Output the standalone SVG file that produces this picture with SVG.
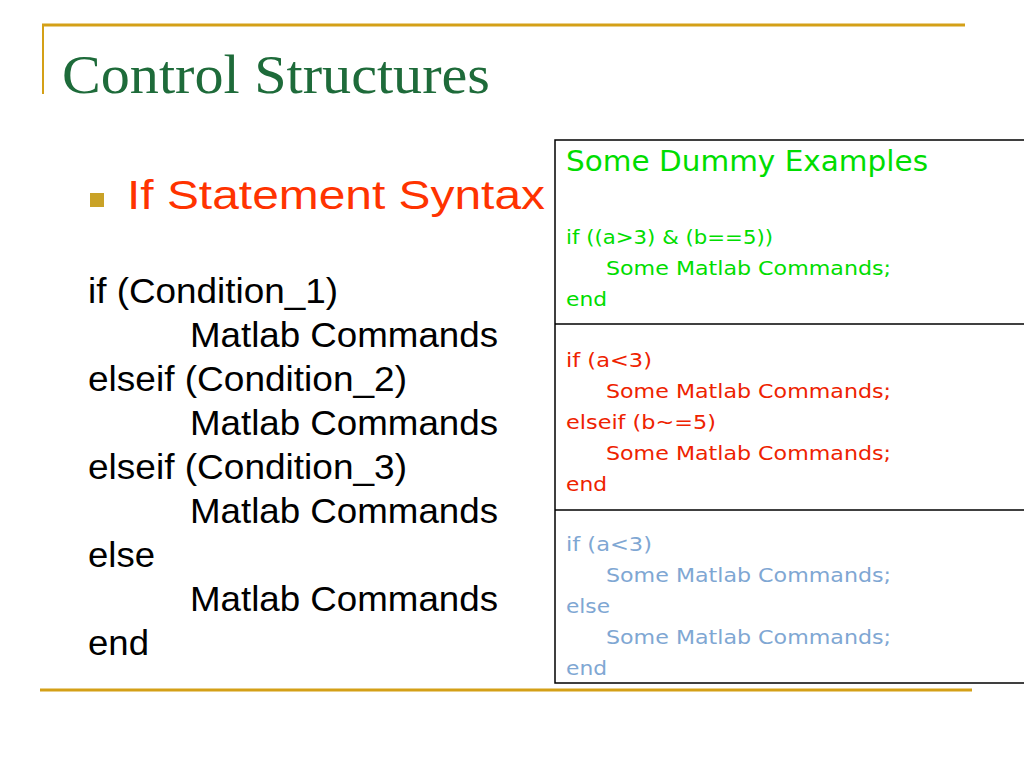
<svg xmlns="http://www.w3.org/2000/svg" width="1024" height="768" viewBox="0 0 1024 768">
<style>
.l{font-family:"Liberation Sans",Arial,sans-serif;font-size:35px;fill:#000}
.s{font-family:"DejaVu Sans",Verdana,sans-serif;font-size:20px}
.g{fill:#00dd00}.r{fill:#ee2200}.b{fill:#7fa7d3}
.gold{stroke:#d4a017;stroke-width:3}
</style>
<rect width="1024" height="768" fill="#fff"/>
<g id="frame">
<line class="gold" x1="42" y1="25" x2="965" y2="25"/>
<line x1="43" y1="25" x2="43" y2="94" stroke="#d4a017" stroke-width="2"/>
<line class="gold" x1="40" y1="690" x2="972" y2="690"/>
</g>
<text x="62" y="93" font-family="Liberation Serif,Times New Roman,serif" font-size="54" fill="#1e6b3a" textLength="428" lengthAdjust="spacingAndGlyphs">Control Structures</text>
<g id="bullet">
<rect x="90" y="193" width="14" height="14" fill="#c9a227"/>
<text x="127" y="209" font-family="Liberation Sans,Arial,sans-serif" font-size="40" fill="#ff3300" textLength="418" lengthAdjust="spacingAndGlyphs">If Statement Syntax</text>
</g>
<g id="syntax">
<text class="l" x="88" y="303" textLength="250" lengthAdjust="spacingAndGlyphs">if (Condition_1)</text>
<text class="l" x="190" y="347" textLength="308" lengthAdjust="spacingAndGlyphs">Matlab Commands</text>
<text class="l" x="88" y="391" textLength="319" lengthAdjust="spacingAndGlyphs">elseif (Condition_2)</text>
<text class="l" x="190" y="435" textLength="308" lengthAdjust="spacingAndGlyphs">Matlab Commands</text>
<text class="l" x="88" y="479" textLength="319" lengthAdjust="spacingAndGlyphs">elseif (Condition_3)</text>
<text class="l" x="190" y="523" textLength="308" lengthAdjust="spacingAndGlyphs">Matlab Commands</text>
<text class="l" x="88" y="567" textLength="67" lengthAdjust="spacingAndGlyphs">else</text>
<text class="l" x="190" y="611" textLength="308" lengthAdjust="spacingAndGlyphs">Matlab Commands</text>
<text class="l" x="88" y="655" textLength="61" lengthAdjust="spacingAndGlyphs">end</text>
</g>
<g id="table">
<rect x="555" y="140" width="480" height="543" fill="none" stroke="#000" stroke-width="1.5"/>
<line x1="555" y1="324" x2="1024" y2="324" stroke="#000" stroke-width="1.5"/>
<line x1="555" y1="510" x2="1024" y2="510" stroke="#000" stroke-width="1.5"/>
</g>
<g id="ex1" class="s">
<text class="g" x="566" y="171" font-size="28" textLength="362" lengthAdjust="spacingAndGlyphs">Some Dummy Examples</text>
<text class="g" x="566" y="244" textLength="207" lengthAdjust="spacingAndGlyphs">if ((a&gt;3) &amp; (b==5))</text>
<text class="g" x="606" y="275" textLength="285" lengthAdjust="spacingAndGlyphs">Some Matlab Commands;</text>
<text class="g" x="566" y="306" textLength="41" lengthAdjust="spacingAndGlyphs">end</text>
</g>
<g id="ex2" class="s">
<text class="r" x="566" y="367" textLength="86" lengthAdjust="spacingAndGlyphs">if (a&lt;3)</text>
<text class="r" x="606" y="398" textLength="285" lengthAdjust="spacingAndGlyphs">Some Matlab Commands;</text>
<text class="r" x="566" y="429" textLength="150" lengthAdjust="spacingAndGlyphs">elseif (b~=5)</text>
<text class="r" x="606" y="460" textLength="285" lengthAdjust="spacingAndGlyphs">Some Matlab Commands;</text>
<text class="r" x="566" y="491" textLength="41" lengthAdjust="spacingAndGlyphs">end</text>
</g>
<g id="ex3" class="s">
<text class="b" x="566" y="551" textLength="86" lengthAdjust="spacingAndGlyphs">if (a&lt;3)</text>
<text class="b" x="606" y="582" textLength="285" lengthAdjust="spacingAndGlyphs">Some Matlab Commands;</text>
<text class="b" x="566" y="613" textLength="44" lengthAdjust="spacingAndGlyphs">else</text>
<text class="b" x="606" y="644" textLength="285" lengthAdjust="spacingAndGlyphs">Some Matlab Commands;</text>
<text class="b" x="566" y="675" textLength="41" lengthAdjust="spacingAndGlyphs">end</text>
</g>
</svg>
